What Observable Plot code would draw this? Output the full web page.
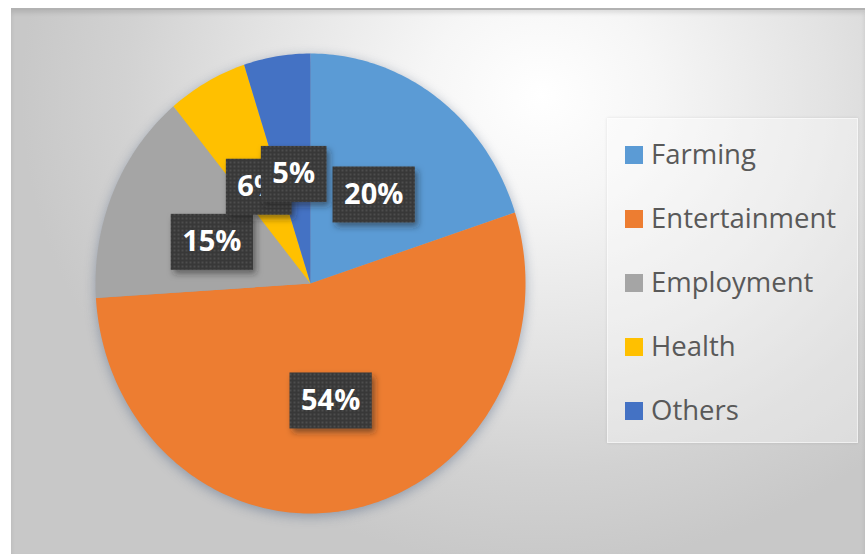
<!DOCTYPE html>
<html>
<head>
<meta charset="utf-8">
<script src="https://cdn.jsdelivr.net/npm/d3@7"></script>
<script src="https://cdn.jsdelivr.net/npm/@observablehq/plot@0.6"></script>
<style>
  html, body { margin: 0; padding: 0; }
  body { width: 865px; height: 554px; overflow: hidden; background: #ffffff; font-family: "Open Sans", sans-serif; position: relative; }
  #panel {
    position: absolute; left: 11px; top: 8px; width: 854px; height: 546px;
    background: radial-gradient(ellipse 520px 470px at 530px 85px, #ffffff 0%, #f6f6f6 22%, #e3e3e3 55%, #d2d2d2 80%, #c8c8c8 100%);
    border-top: 2px solid #b2b2b2;
    box-shadow: inset 0 3px 4px rgba(0,0,0,0.10);
    box-sizing: border-box;
  }
  #chart { position: absolute; left: 0; top: 0; }
  #chart g[aria-label="line"] { filter: drop-shadow(0 3px 6px rgba(70, 90, 125, 0.45)); }
  #legend {
    position: absolute; left: 607px; top: 118px; width: 251px; height: 325px;
    box-sizing: border-box; padding: 3px 0 0 17px;
    background: rgba(255,255,255,0.35);
    border: 1px solid rgba(255,255,255,0.55);
    box-shadow: 0 0 3px rgba(0,0,0,0.10);
  }
  .item { height: 64px; line-height: 64px; font-size: 27.5px; color: #595959; white-space: nowrap; }
  .sw { display: inline-block; width: 18px; height: 18px; margin-right: 8px; vertical-align: baseline; }
</style>
</head>
<body>
<div id="panel"></div>
<div id="chart"></div>
<div id="legend"></div>
<script>
// Spending shares by category (percent)
const categories = ["Farming", "Entertainment", "Employment", "Health", "Others"];
const shares = [20, 54, 15, 6, 5];
const colors = ["#5B9BD5", "#ED7D31", "#A5A5A5", "#FFC000", "#4472C4"];
const labels = shares.map(v => v + "%");

// Wedge angles, clockwise from 12 o'clock
const total = d3.sum(shares);
let acc = 0;
const slices = categories.map((name, i) => {
  const a0 = acc / total * 2 * Math.PI;
  acc += shares[i];
  const a1 = acc / total * 2 * Math.PI;
  return {name, value: shares[i], label: labels[i], a0, a1};
});

// Outline of each wedge: centre, then points along its arc
const outline = slices.flatMap(s => {
  const n = Math.max(2, Math.ceil((s.a1 - s.a0) / (Math.PI / 180)));
  const pts = [{name: s.name, x: 0, y: 0}];
  for (let k = 0; k <= n; k++) {
    const a = s.a0 + (s.a1 - s.a0) * k / n;
    pts.push({name: s.name, x: Math.sin(a), y: Math.cos(a)});
  }
  return pts;
});

// Percentage labels sit halfway out along each wedge's middle angle
const labelPts = slices.map(s => {
  const a = (s.a0 + s.a1) / 2;
  return {...s, x: 0.5 * Math.sin(a), y: 0.5 * Math.cos(a)};
});

const chart = Plot.plot({
  width: 865,
  height: 554,
  marginLeft: 95,
  marginRight: 340,
  marginTop: 53,
  marginBottom: 41,
  x: {domain: [-1, 1], axis: null},
  y: {domain: [-1, 1], axis: null},
  color: {domain: categories, range: colors},
  style: {background: "transparent", overflow: "visible"},
  marks: [
    Plot.line(outline, {x: "x", y: "y", z: "name", fill: "name", stroke: "none", curve: "linear-closed"}),
    Plot.text(labelPts, {
      x: "x", y: "y", text: "label", fill: "white",
      fontSize: 29, fontWeight: "bold", fontFamily: "Open Sans", dy: 4
    })
  ]
});
document.getElementById("chart").appendChild(chart);

// Dark dotted label boxes with a drop shadow, each placed right behind its own label
const ns = "http://www.w3.org/2000/svg";
const defs = document.createElementNS(ns, "defs");
defs.innerHTML = `
  <pattern id="dots" width="4" height="4" patternUnits="userSpaceOnUse">
    <rect width="4" height="4" fill="#393939"></rect>
    <circle cx="2" cy="2" r="0.9" fill="#575757"></circle>
  </pattern>
  <filter id="boxShadow" x="-30%" y="-30%" width="170%" height="180%">
    <feDropShadow dx="3" dy="4" stdDeviation="3" flood-color="#1a1a1a" flood-opacity="0.5"></feDropShadow>
  </filter>`;
chart.insertBefore(defs, chart.firstChild);

const sx = chart.scale("x"), sy = chart.scale("y");
const textGroup = chart.querySelector('g[aria-label="text"]');
const texts = Array.from(textGroup.querySelectorAll("text"));
texts.forEach((t, i) => {
  const d = labelPts[i];
  const w = t.getComputedTextLength() + 23;
  const h = 56;
  const cx = sx.apply(d.x), cy = sy.apply(d.y);
  const r = document.createElementNS(ns, "rect");
  r.setAttribute("x", cx - w / 2);
  r.setAttribute("y", cy - h / 2);
  r.setAttribute("width", w);
  r.setAttribute("height", h);
  r.setAttribute("fill", "url(#dots)");
  r.setAttribute("filter", "url(#boxShadow)");
  t.parentNode.insertBefore(r, t);
});

// Legend
const legend = document.getElementById("legend");
categories.forEach((c, i) => {
  const row = document.createElement("div");
  row.className = "item";
  const sw = document.createElement("span");
  sw.className = "sw";
  sw.style.background = colors[i];
  row.appendChild(sw);
  row.appendChild(document.createTextNode(c));
  legend.appendChild(row);
});
</script>
</body>
</html>
